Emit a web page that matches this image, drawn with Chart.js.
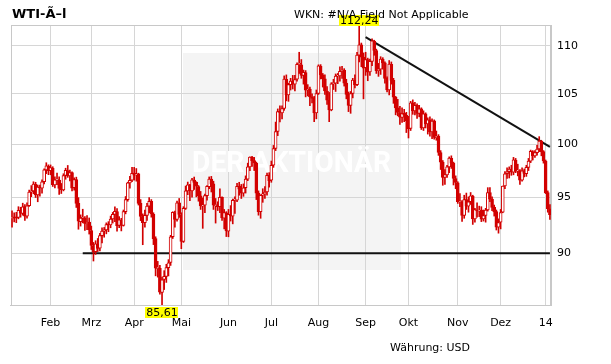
<!DOCTYPE html>
<html lang="de">
<head>
<meta charset="UTF-8">
<title>WTI-Öl</title>
<script src="https://cdn.jsdelivr.net/npm/chart.js@4.4.1/dist/chart.umd.min.js"></script>
<style>
  html, body { margin: 0; padding: 0; background: #fff; }
  #wrap { position: relative; width: 611px; height: 364px; font-family: "DejaVu Sans", Verdana, sans-serif; color: #000; }
  #chart { position: absolute; left: 0; top: 0; }
  .txt { position: absolute; white-space: nowrap; font-size: 11px; line-height: 13px; }
  #title { left: 12px; top: 6px; font-size: 13px; line-height: 15px; font-weight: bold; }
  #wkn { left: 294px; top: 8px; }
  #cur { left: 390px; top: 341px; }
</style>
</head>
<body>
<div id="wrap">
  <canvas id="chart" width="611" height="364"></canvas>
  <div class="txt" id="title">WTI-Ã–l</div>
  <div class="txt" id="wkn">WKN: #N/A Field Not Applicable</div>
  <div class="txt" id="cur">Währung: USD</div>
</div>
<script>
// Handelstage 07.01.2013 - 06.01.2014
const days = [
  '07.01.13','08.01.13','09.01.13','10.01.13','11.01.13','14.01.13','15.01.13','16.01.13','17.01.13','18.01.13','22.01.13','23.01.13','24.01.13','25.01.13','28.01.13','29.01.13','30.01.13','31.01.13',
  '01.02.13','04.02.13','05.02.13','06.02.13','07.02.13','08.02.13','11.02.13','12.02.13','13.02.13','14.02.13','15.02.13','19.02.13','20.02.13','21.02.13','22.02.13','25.02.13','26.02.13','27.02.13','28.02.13',
  '01.03.13','04.03.13','05.03.13','06.03.13','07.03.13','08.03.13','11.03.13','12.03.13','13.03.13','14.03.13','15.03.13','18.03.13','19.03.13','20.03.13','21.03.13','22.03.13','25.03.13','26.03.13','27.03.13','28.03.13',
  '01.04.13','02.04.13','03.04.13','04.04.13','05.04.13','08.04.13','09.04.13','10.04.13','11.04.13','12.04.13','15.04.13','16.04.13','17.04.13','18.04.13','19.04.13','22.04.13','23.04.13','24.04.13','25.04.13','26.04.13','29.04.13','30.04.13',
  '01.05.13','02.05.13','03.05.13','06.05.13','07.05.13','08.05.13','09.05.13','10.05.13','13.05.13','14.05.13','15.05.13','16.05.13','17.05.13','20.05.13','21.05.13','22.05.13','23.05.13','24.05.13','28.05.13','29.05.13','30.05.13','31.05.13',
  '03.06.13','04.06.13','05.06.13','06.06.13','07.06.13','10.06.13','11.06.13','12.06.13','13.06.13','14.06.13','17.06.13','18.06.13','19.06.13','20.06.13','21.06.13','24.06.13','25.06.13','26.06.13','27.06.13','28.06.13',
  '01.07.13','02.07.13','03.07.13','05.07.13','08.07.13','09.07.13','10.07.13','11.07.13','12.07.13','15.07.13','16.07.13','17.07.13','18.07.13','19.07.13','22.07.13','23.07.13','24.07.13','25.07.13','26.07.13','29.07.13','30.07.13','31.07.13',
  '01.08.13','02.08.13','05.08.13','06.08.13','07.08.13','08.08.13','09.08.13','12.08.13','13.08.13','14.08.13','15.08.13','16.08.13','19.08.13','20.08.13','21.08.13','22.08.13','23.08.13','26.08.13','27.08.13','28.08.13','29.08.13','30.08.13',
  '03.09.13','04.09.13','05.09.13','06.09.13','09.09.13','10.09.13','11.09.13','12.09.13','13.09.13','16.09.13','17.09.13','18.09.13','19.09.13','20.09.13','23.09.13','24.09.13','25.09.13','26.09.13','27.09.13','30.09.13',
  '01.10.13','02.10.13','03.10.13','04.10.13','07.10.13','08.10.13','09.10.13','10.10.13','11.10.13','14.10.13','15.10.13','16.10.13','17.10.13','18.10.13','21.10.13','22.10.13','23.10.13','24.10.13','25.10.13','28.10.13','29.10.13','30.10.13','31.10.13',
  '01.11.13','04.11.13','05.11.13','06.11.13','07.11.13','08.11.13','11.11.13','12.11.13','13.11.13','14.11.13','15.11.13','18.11.13','19.11.13','20.11.13','21.11.13','22.11.13','25.11.13','26.11.13','27.11.13','29.11.13',
  '02.12.13','03.12.13','04.12.13','05.12.13','06.12.13','09.12.13','10.12.13','11.12.13','12.12.13','13.12.13','16.12.13','17.12.13','18.12.13','19.12.13','20.12.13','23.12.13','24.12.13','26.12.13','27.12.13','30.12.13','31.12.13',
  '02.01.14','03.01.14','06.01.14'
];

const open = [
  93.08,93.21,93.20,93.18,93.80,93.55,94.15,93.30,94.25,95.50,95.60,96.20,95.22,95.90,95.85,96.45,97.55,97.90,
  97.50,97.70,96.15,96.60,96.60,95.85,95.70,97.05,97.50,97.00,97.30,95.90,96.65,94.45,92.80,93.10,93.10,92.60,92.75,
  92.00,90.65,90.15,90.80,90.45,91.55,91.95,92.05,92.55,92.50,93.05,93.45,93.70,92.45,92.95,92.45,93.70,94.80,96.35,96.60,
  97.25,97.10,97.20,94.45,93.25,92.70,93.35,94.20,94.65,93.45,91.30,88.70,88.70,86.65,87.75,88.00,88.75,89.20,91.45,93.60,93.00,94.50,
  93.40,91.05,94.00,95.60,96.15,95.60,96.60,96.40,96.00,95.15,94.20,94.30,95.15,96.00,96.70,96.25,94.25,94.25,94.15,95.00,93.10,93.60,
  91.95,93.45,93.30,94.75,94.75,96.05,95.75,95.40,95.90,96.70,97.85,98.75,98.45,98.20,95.40,93.70,95.20,95.30,95.50,97.05,
  96.60,98.00,99.60,101.25,103.20,103.10,103.55,106.50,104.90,105.95,106.30,106.00,106.50,108.05,108.00,106.90,107.20,105.40,105.50,104.70,104.55,103.10,
  105.05,107.85,106.95,106.55,105.30,104.35,103.40,106.05,106.10,106.85,106.85,107.35,107.45,106.10,104.95,103.85,105.05,106.40,105.95,109.00,110.10,108.80,
  107.70,108.55,107.25,108.35,110.50,109.50,107.40,107.55,108.60,108.20,106.60,105.40,108.05,106.40,104.65,103.60,103.10,102.65,103.05,102.85,
  102.35,101.55,104.10,103.30,103.85,103.05,103.50,101.60,103.00,102.00,102.40,101.20,102.30,100.65,100.80,99.20,98.30,96.85,97.10,97.85,98.65,98.20,96.75,
  96.35,94.60,94.60,93.35,94.80,94.20,94.60,95.10,93.05,93.85,93.75,93.85,93.05,93.35,93.85,95.45,94.85,94.10,93.70,92.30,
  92.75,93.65,96.05,97.20,97.40,97.65,97.35,98.50,97.45,97.50,96.60,97.50,97.20,97.80,98.40,99.30,98.90,99.20,99.55,100.30,99.30,
  98.40,95.45,93.95
];

const high = [
  93.77,93.59,93.64,94.15,94.10,94.47,94.35,94.50,95.68,96.09,96.45,96.40,96.14,96.13,96.64,97.66,98.24,98.04,
  98.03,97.86,96.92,97.25,96.90,96.29,97.20,97.72,97.98,97.55,97.38,96.81,96.88,94.98,93.41,93.92,93.25,93.35,93.13,
  92.40,90.95,91.10,91.30,91.75,92.25,92.28,92.69,92.80,93.30,93.63,94.14,93.98,93.25,93.10,93.85,95.08,96.41,96.95,97.80,
  97.80,97.69,97.25,94.80,93.50,93.85,94.45,94.98,94.80,93.60,91.45,89.30,88.95,87.95,88.50,89.05,89.45,91.58,93.69,93.75,94.67,94.90,
  93.60,94.15,96.05,96.42,96.20,96.78,96.89,96.45,96.10,95.55,94.95,95.30,96.10,96.90,96.95,96.50,94.90,94.60,95.80,95.05,93.90,93.70,
  93.90,94.25,94.85,95.05,96.30,96.40,96.20,96.25,97.00,98.20,98.80,98.85,98.75,98.30,95.60,95.25,95.80,96.00,97.25,97.30,
  98.40,99.90,102.18,103.49,103.80,103.80,106.85,106.95,106.10,106.60,106.90,106.90,108.20,109.32,108.55,107.45,107.40,105.95,105.70,105.00,104.75,105.40,
  108.00,108.02,107.10,106.95,105.75,105.15,106.15,106.50,107.05,107.10,107.80,107.85,107.60,106.50,105.20,105.25,106.60,106.95,109.30,112.24,110.30,109.25,
  109.32,108.70,108.60,110.74,110.60,109.65,108.15,108.85,108.75,108.30,106.75,108.45,108.30,106.60,104.75,104.45,103.75,103.60,103.45,103.15,
  102.75,104.25,104.40,104.15,104.00,103.85,103.60,103.30,103.10,102.60,102.70,102.50,102.40,101.30,100.95,99.40,98.45,97.60,98.00,98.80,98.90,98.30,97.00,
  96.45,95.35,94.70,95.20,95.40,95.05,95.45,95.20,94.00,94.50,94.20,94.15,93.85,94.00,95.90,95.90,95.05,94.30,93.85,93.05,
  93.90,96.05,97.40,97.75,97.85,98.00,98.75,98.65,98.10,97.60,97.75,97.65,98.00,98.65,99.45,99.40,99.40,99.90,100.75,100.40,99.40,
  98.50,95.60,94.35
];

const low = [
  92.30,92.78,92.71,93.05,93.20,93.38,92.91,93.10,94.18,95.07,95.34,94.99,94.60,95.12,95.40,96.25,97.21,97.11,
  97.10,96.01,95.88,96.18,95.27,95.36,95.60,96.68,96.86,96.52,95.59,95.66,94.08,92.12,92.40,92.69,92.02,92.09,91.69,
  90.33,89.33,89.90,90.15,90.20,90.90,91.41,91.71,91.90,92.25,92.67,92.80,91.95,92.26,91.97,92.40,93.50,94.65,95.85,96.45,
  96.60,96.50,94.30,92.89,90.75,92.30,92.90,93.60,93.20,90.76,88.06,87.95,86.51,85.61,86.90,87.50,88.05,88.95,91.30,92.31,92.85,93.18,
  90.40,90.95,93.90,95.25,94.71,95.02,95.73,95.05,94.65,93.90,92.20,93.60,94.75,95.80,95.50,93.90,92.67,93.80,93.60,92.90,92.15,91.47,
  91.45,92.85,92.60,93.55,94.60,95.20,94.90,95.10,95.40,96.55,97.50,97.90,97.50,94.80,93.38,93.10,94.55,94.90,95.20,95.95,
  96.40,97.80,99.40,100.85,102.20,102.50,103.35,104.30,104.25,105.40,105.50,105.30,106.30,107.10,106.60,106.00,104.70,104.80,103.81,104.10,102.22,102.50,
  104.95,106.53,105.70,104.95,103.95,102.22,103.30,105.45,105.25,106.05,106.30,106.60,105.80,104.50,103.22,103.05,104.60,105.60,105.85,108.30,107.80,104.50,
  106.90,106.35,106.90,107.90,109.00,107.10,106.80,107.00,107.55,106.10,105.20,104.90,106.00,104.05,102.90,102.80,101.95,102.15,102.22,101.15,
  100.62,101.35,102.95,102.90,102.55,102.70,101.45,101.35,101.60,101.00,100.80,100.55,100.50,100.40,98.94,97.60,96.12,96.20,96.85,97.30,97.70,96.15,95.80,
  94.45,94.15,92.82,93.10,93.90,93.65,94.35,92.55,92.75,93.20,93.25,92.80,92.85,92.75,93.75,94.60,93.80,93.30,92.05,91.77,
  92.15,93.60,95.80,96.75,96.80,97.05,97.10,97.30,97.00,96.20,96.50,96.90,96.95,97.50,98.25,98.50,98.75,98.95,99.30,98.90,98.20,
  95.35,93.65,93.00
];

const close = [
  93.19,93.15,93.10,93.82,93.56,94.14,93.28,94.24,95.49,95.56,96.24,95.23,95.95,95.88,96.44,97.57,97.94,97.49,
  97.77,96.17,96.64,96.62,95.83,95.72,97.03,97.51,97.01,97.31,95.86,96.66,94.46,92.84,93.13,93.11,92.63,92.76,92.05,
  90.68,90.12,90.82,90.43,91.56,91.95,92.06,92.54,92.52,93.03,93.45,93.73,92.44,92.96,92.45,93.71,94.81,96.34,96.58,97.23,
  97.07,97.19,94.45,93.26,92.70,93.36,94.20,94.64,93.50,91.29,88.71,88.72,86.68,87.73,88.01,88.76,89.18,91.44,93.64,93.00,94.50,93.46,
  91.03,93.99,95.61,96.16,95.62,96.62,96.39,96.04,95.17,94.21,94.30,95.16,96.02,96.71,96.25,94.28,94.25,94.15,95.01,93.13,93.61,91.97,
  93.45,93.31,94.74,94.76,96.03,95.77,95.38,95.88,96.69,97.85,98.77,98.44,98.24,95.40,93.69,95.18,95.32,95.50,97.05,96.56,
  97.99,99.60,101.24,103.22,103.14,103.53,106.52,104.91,105.95,106.32,106.00,106.48,108.04,108.05,106.91,107.23,105.39,105.49,104.70,104.55,103.08,105.03,
  107.89,106.94,106.56,105.30,104.37,103.40,106.03,106.11,106.83,106.85,107.33,107.46,106.10,104.96,103.85,105.03,106.42,105.92,109.01,110.10,108.80,107.65,
  108.54,107.23,108.37,110.53,109.52,107.39,107.55,108.60,108.21,106.59,105.42,108.07,106.39,104.67,103.59,103.13,102.66,103.03,102.87,102.33,
  101.53,104.10,103.31,103.84,103.03,103.49,101.61,103.01,102.02,102.41,101.21,102.29,100.67,100.81,99.22,98.30,96.86,97.11,97.85,98.68,98.20,96.77,96.38,
  94.61,94.62,93.37,94.80,94.20,94.60,95.14,93.04,93.88,93.76,93.84,93.03,93.34,93.85,95.44,94.84,94.09,93.68,92.30,92.72,
  93.61,96.04,97.20,97.38,97.65,97.34,98.51,97.44,97.50,96.60,97.48,97.22,97.80,98.40,99.32,98.91,99.22,99.55,100.32,99.29,98.42,
  95.44,93.96,93.43
];

// Monatsbeschriftungen (ab Februar)
const monthTicks = ['Feb', 'Mrz', 'Apr', 'Mai', 'Jun', 'Jul', 'Aug', 'Sep', 'Okt', 'Nov', 'Dez', '14'];
const yTicks = [90, 95, 100, 105, 110];

// Unterstützung und Trendlinie
const supportLine = [{ x: '25.02.13', y: 90 }, { x: '06.01.14', y: 90 }];
const trendLine = [{ x: '03.09.13', y: 110.93 }, { x: '06.01.14', y: 99.75 }];

const red = '#d20000';
const gridColor = '#d6d6d6';

// Index des ersten Handelstags je Monat
const monthStart = new Map();
let m = 0;
days.forEach((d, i) => {
  if (i > 0 && d.slice(3, 5) !== days[i - 1].slice(3, 5)) {
    monthStart.set(i, monthTicks[m++]);
  }
});

const wicks = days.map((d, i) => [low[i], high[i]]);
const bodies = days.map((d, i) => [Math.min(open[i], close[i]), Math.max(open[i], close[i])]);
const yMin = Math.min(...low);
const yMax = Math.max(...high);

const fmt = v => v.toFixed(2).replace('.', ',');

const decor = {
  id: 'decor',
  beforeDraw(chart) {
    const ctx = chart.ctx;
    ctx.save();
    ctx.fillStyle = '#f4f4f4';
    ctx.fillRect(183, 53, 218, 217);
    ctx.restore();
  },
  beforeDatasetsDraw(chart) {
    const { ctx, chartArea: a } = chart;
    ctx.save();
    ctx.fillStyle = '#ffffff';
    ctx.font = 'bold 30px Roboto';
    ctx.textBaseline = 'alphabetic';
    ctx.textAlign = 'left';
    ctx.fillText('DER AKTIONÄR', 192, 172, 199);
    ctx.strokeStyle = '#c8c8c8';
    ctx.lineWidth = 1;
    ctx.strokeRect(Math.round(a.left) + 0.5, Math.round(a.top) + 0.5, Math.round(a.right - a.left) - 1, Math.round(a.bottom - a.top));
    ctx.restore();
  },
  afterDraw(chart) {
    const { ctx, chartArea: a, scales } = chart;
    const iMax = high.indexOf(yMax);
    const iMin = low.indexOf(yMin);
    ctx.save();
    ctx.font = '11px "DejaVu Sans"';
    ctx.textAlign = 'center';
    ctx.textBaseline = 'middle';
    const box = (txt, x, top) => {
      const w = ctx.measureText(txt).width + 2;
      ctx.fillStyle = '#ffff00';
      ctx.fillRect(Math.round(x - w / 2), top, Math.round(w), 11);
      ctx.fillStyle = '#000';
      ctx.fillText(txt, x, top + 6);
    };
    box(fmt(yMax), scales.x.getPixelForValue(iMax), a.top - 10);
    box(fmt(yMin), scales.x.getPixelForValue(iMin), a.bottom + 2);
    ctx.restore();
  }
};

Chart.defaults.font.family = '"DejaVu Sans", Verdana, sans-serif';
Chart.defaults.font.size = 11;
Chart.defaults.color = '#000';

new Chart(document.getElementById('chart'), {
  type: 'bar',
  data: {
    labels: days,
    datasets: [
      {
        label: 'Körper',
        data: bodies,
        order: 1,
        grouped: false,
        barThickness: 3,
        minBarLength: 1,
        borderWidth: 1,
        borderSkipped: false,
        borderColor: red,
        backgroundColor: c => close[c.dataIndex] >= open[c.dataIndex] ? '#ffffff' : red
      },
      {
        label: 'Docht',
        data: wicks,
        order: 2,
        grouped: false,
        barThickness: 1,
        borderWidth: 0,
        backgroundColor: red
      },
      {
        type: 'line',
        label: 'Unterstützung',
        data: supportLine,
        order: 3,
        borderColor: '#111',
        borderWidth: 2,
        pointRadius: 0,
        fill: false
      },
      {
        type: 'line',
        label: 'Trend',
        data: trendLine,
        order: 4,
        borderColor: '#111',
        borderWidth: 2,
        pointRadius: 0,
        fill: false
      }
    ]
  },
  options: {
    responsive: false,
    animation: false,
    layout: { padding: { left: 10, top: 25, right: 0, bottom: 0 } },
    plugins: {
      legend: { display: false },
      tooltip: { enabled: false }
    },
    scales: {
      x: {
        offset: true,
        grid: {
          offset: false,
          drawTicks: false,
          color: c => monthStart.has(c.index) ? gridColor : 'rgba(0,0,0,0)'
        },
        border: { color: '#c8c8c8' },
        ticks: {
          autoSkip: false,
          maxRotation: 0,
          minRotation: 0,
          padding: 12,
          callback: (v, i) => monthStart.get(i) || ''
        },
        afterFit: s => { s.height = 59; }
      },
      y: {
        type: 'logarithmic',
        position: 'right',
        min: yMin,
        max: yMax,
        afterBuildTicks: s => { s.ticks = yTicks.map(v => ({ value: v })); },
        afterFit: s => { s.width = 60; },
        grid: { color: gridColor, drawTicks: false },
        border: { color: '#c8c8c8' },
        ticks: { padding: 6, callback: v => String(v) }
      }
    }
  },
  plugins: [decor]
});
</script>
</body>
</html>
